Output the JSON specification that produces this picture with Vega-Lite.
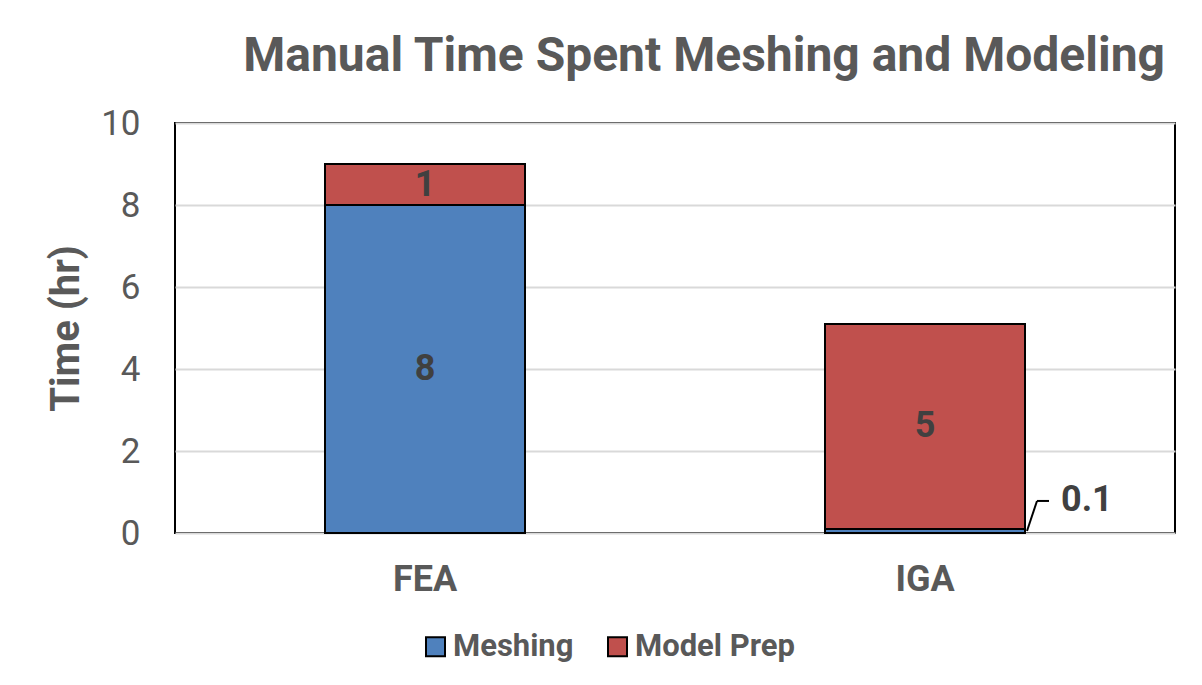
{
  "$schema": "https://vega.github.io/schema/vega-lite/v6.json",
  "width": 1000,
  "height": 410,
  "autosize": {"type": "none"},
  "padding": {"left": 175, "top": 123, "right": 27, "bottom": 152},
  "background": "white",
  "config": {"font": "Roboto", "view": {"stroke": "black", "strokeWidth": 2}},
  "title": {
    "text": "Manual Time Spent Meshing and Modeling",
    "fontSize": 48,
    "fontWeight": "bold",
    "color": "#595959",
    "anchor": "end",
    "dx": -10,
    "baseline": "alphabetic",
    "offset": 51,
    "dy": 64
  },
  "data": {
    "values": [
      {"method": "FEA", "series": "Meshing", "value": 8},
      {"method": "FEA", "series": "Model Prep", "value": 1},
      {"method": "IGA", "series": "Meshing", "value": 0.1},
      {"method": "IGA", "series": "Model Prep", "value": 5}
    ]
  },
  "transform": [
    {"stack": "value", "groupby": ["method"], "sort": [{"field": "series", "order": "ascending"}], "as": ["v0", "v1"]},
    {"calculate": "(datum.v0 + datum.v1) / 2", "as": "mid"}
  ],
  "encoding": {
    "x": {
      "field": "method",
      "type": "nominal",
      "scale": {"paddingInner": 0.6, "paddingOuter": 0.3},
      "axis": {
        "title": null,
        "labelAngle": 0,
        "labelFontSize": 36,
        "labelFontWeight": "bold",
        "labelColor": "#595959",
        "labelPadding": 29,
        "ticks": false,
        "domain": false
      }
    }
  },
  "layer": [
    {
      "mark": {"type": "bar", "stroke": "black", "strokeWidth": 2},
      "encoding": {
        "y": {
          "field": "v0",
          "type": "quantitative",
          "scale": {"domain": [0, 10]},
          "axis": {
            "title": "Time (hr)",
            "titleFontSize": 40,
            "titleFontWeight": "bold",
            "titleColor": "#595959",
            "titlePadding": 14,
            "labelFontSize": 35,
            "labelColor": "#595959",
            "labelPadding": 35,
            "values": [0, 2, 4, 6, 8, 10],
            "ticks": false,
            "domain": false,
            "grid": true,
            "gridColor": "#D9D9D9",
            "gridWidth": 2
          }
        },
        "y2": {"field": "v1"},
        "color": {
          "field": "series",
          "type": "nominal",
          "scale": {"domain": ["Meshing", "Model Prep"], "range": ["#4F81BD", "#C0504D"]},
          "legend": {
            "orient": "none",
            "legendX": 245,
            "legendY": 508,
            "direction": "horizontal",
            "title": null,
            "labelFontSize": 31,
            "labelFontWeight": "bold",
            "labelColor": "#595959",
            "symbolType": "square",
            "symbolSize": 361,
            "symbolStrokeColor": "black",
            "symbolStrokeWidth": 2,
            "labelOffset": 2,
            "columnPadding": 28
          }
        }
      }
    },
    {
      "transform": [{"filter": "datum.value >= 1"}],
      "mark": {"type": "text", "fontSize": 36, "fontWeight": "bold", "color": "#404040", "baseline": "middle"},
      "encoding": {
        "y": {"field": "mid", "type": "quantitative"},
        "text": {"field": "value", "type": "quantitative"}
      }
    },
    {
      "transform": [{"filter": "datum.value < 1"}],
      "mark": {"type": "rule", "color": "black", "strokeWidth": 2, "xOffset": 2, "x2Offset": 12, "y2Offset": -30},
      "encoding": {
        "x": {"field": "method", "type": "nominal", "bandPosition": 1},
        "x2": {"field": "method", "bandPosition": 1},
        "y": {"field": "mid", "type": "quantitative"},
        "y2": {"field": "mid"}
      }
    },
    {
      "transform": [{"filter": "datum.value < 1"}],
      "mark": {"type": "rule", "color": "black", "strokeWidth": 2, "xOffset": 12, "x2Offset": 24, "yOffset": -30},
      "encoding": {
        "x": {"field": "method", "type": "nominal", "bandPosition": 1},
        "x2": {"field": "method", "bandPosition": 1},
        "y": {"field": "mid", "type": "quantitative"}
      }
    },
    {
      "transform": [{"filter": "datum.value < 1"}],
      "mark": {"type": "text", "fontSize": 36, "fontWeight": "bold", "color": "#404040", "baseline": "middle", "align": "left", "dx": 36, "dy": -31},
      "encoding": {
        "x": {"field": "method", "type": "nominal", "bandPosition": 1},
        "y": {"field": "mid", "type": "quantitative"},
        "text": {"field": "value", "type": "quantitative"}
      }
    }
  ]
}
